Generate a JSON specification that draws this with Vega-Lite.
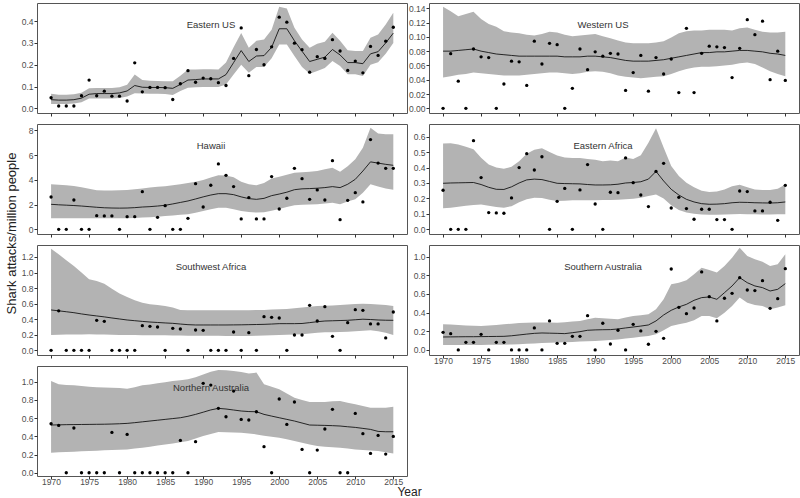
{
  "$schema": "https://vega.github.io/schema/vega-lite/v6.json",
  "background": "white",
  "padding": {"left": 4, "top": 2, "right": 0, "bottom": 0},
  "config": {
    "view": {"stroke": "#555", "strokeWidth": 1},
    "axis": {"grid": false, "domain": false, "tickColor": "#333", "tickSize": 3, "labelColor": "#4d4d4d", "labelFontSize": 8.5, "labelFont": "Liberation Sans", "titleFont": "Liberation Sans", "titleFontWeight": "normal", "titleColor": "#222", "labelPadding": 1, "labelOverlap": false, "labelFlush": false, "labelBound": false},
    "title": {"font": "Liberation Sans", "fontSize": 9.5, "fontWeight": "normal", "color": "#333"}
  },
  "datasets": {
    "eus": [
      {"year":1970,"obs":0.049,"fit":0.040,"lo":0.020,"hi":0.067},
      {"year":1971,"obs":0.011,"fit":0.038,"lo":0.020,"hi":0.063},
      {"year":1972,"obs":0.011,"fit":0.038,"lo":0.020,"hi":0.063},
      {"year":1973,"obs":0.011,"fit":0.040,"lo":0.022,"hi":0.065},
      {"year":1974,"obs":0.058,"fit":0.047,"lo":0.028,"hi":0.072},
      {"year":1975,"obs":0.130,"fit":0.065,"lo":0.045,"hi":0.092},
      {"year":1976,"obs":0.058,"fit":0.068,"lo":0.046,"hi":0.093},
      {"year":1977,"obs":0.079,"fit":0.068,"lo":0.046,"hi":0.093},
      {"year":1978,"obs":0.056,"fit":0.068,"lo":0.046,"hi":0.094},
      {"year":1979,"obs":0.056,"fit":0.071,"lo":0.048,"hi":0.097},
      {"year":1980,"obs":0.034,"fit":0.080,"lo":0.055,"hi":0.108},
      {"year":1981,"obs":0.209,"fit":0.105,"lo":0.070,"hi":0.155},
      {"year":1982,"obs":0.076,"fit":0.097,"lo":0.068,"hi":0.130},
      {"year":1983,"obs":0.096,"fit":0.096,"lo":0.067,"hi":0.127},
      {"year":1984,"obs":0.096,"fit":0.096,"lo":0.067,"hi":0.126},
      {"year":1985,"obs":0.095,"fit":0.095,"lo":0.066,"hi":0.125},
      {"year":1986,"obs":0.041,"fit":0.092,"lo":0.062,"hi":0.124},
      {"year":1987,"obs":0.113,"fit":0.110,"lo":0.080,"hi":0.150},
      {"year":1988,"obs":0.173,"fit":0.130,"lo":0.095,"hi":0.178},
      {"year":1989,"obs":0.120,"fit":0.132,"lo":0.097,"hi":0.178},
      {"year":1990,"obs":0.139,"fit":0.135,"lo":0.098,"hi":0.180},
      {"year":1991,"obs":0.136,"fit":0.135,"lo":0.098,"hi":0.180},
      {"year":1992,"obs":0.118,"fit":0.135,"lo":0.098,"hi":0.178},
      {"year":1993,"obs":0.105,"fit":0.155,"lo":0.110,"hi":0.210},
      {"year":1994,"obs":0.229,"fit":0.210,"lo":0.155,"hi":0.280},
      {"year":1995,"obs":0.369,"fit":0.265,"lo":0.200,"hi":0.345},
      {"year":1996,"obs":0.150,"fit":0.215,"lo":0.163,"hi":0.278},
      {"year":1997,"obs":0.270,"fit":0.240,"lo":0.190,"hi":0.310},
      {"year":1998,"obs":0.200,"fit":0.242,"lo":0.190,"hi":0.316},
      {"year":1999,"obs":0.282,"fit":0.280,"lo":0.230,"hi":0.360},
      {"year":2000,"obs":0.418,"fit":0.365,"lo":0.293,"hi":0.466},
      {"year":2001,"obs":0.395,"fit":0.365,"lo":0.293,"hi":0.458},
      {"year":2002,"obs":0.299,"fit":0.310,"lo":0.240,"hi":0.370},
      {"year":2003,"obs":0.269,"fit":0.262,"lo":0.190,"hi":0.316},
      {"year":2004,"obs":0.166,"fit":0.215,"lo":0.159,"hi":0.278},
      {"year":2005,"obs":0.237,"fit":0.225,"lo":0.172,"hi":0.296},
      {"year":2006,"obs":0.229,"fit":0.235,"lo":0.185,"hi":0.305},
      {"year":2007,"obs":0.315,"fit":0.270,"lo":0.217,"hi":0.347},
      {"year":2008,"obs":0.263,"fit":0.245,"lo":0.194,"hi":0.310},
      {"year":2009,"obs":0.174,"fit":0.210,"lo":0.156,"hi":0.266},
      {"year":2010,"obs":0.217,"fit":0.210,"lo":0.156,"hi":0.263},
      {"year":2011,"obs":0.163,"fit":0.205,"lo":0.148,"hi":0.263},
      {"year":2012,"obs":0.284,"fit":0.250,"lo":0.200,"hi":0.324},
      {"year":2013,"obs":0.243,"fit":0.260,"lo":0.212,"hi":0.339},
      {"year":2014,"obs":0.308,"fit":0.300,"lo":0.250,"hi":0.385},
      {"year":2015,"obs":0.372,"fit":0.345,"lo":0.300,"hi":0.438}
    ],
    "wus": [
      {"year":1970,"obs":0.000,"fit":0.080,"lo":0.043,"hi":0.142},
      {"year":1971,"obs":0.0765,"fit":0.080,"lo":0.045,"hi":0.136},
      {"year":1972,"obs":0.038,"fit":0.081,"lo":0.047,"hi":0.129},
      {"year":1973,"obs":0.000,"fit":0.082,"lo":0.048,"hi":0.132},
      {"year":1974,"obs":0.083,"fit":0.083,"lo":0.050,"hi":0.135},
      {"year":1975,"obs":0.072,"fit":0.080,"lo":0.049,"hi":0.125},
      {"year":1976,"obs":0.071,"fit":0.078,"lo":0.048,"hi":0.118},
      {"year":1977,"obs":0.000,"fit":0.076,"lo":0.047,"hi":0.114},
      {"year":1978,"obs":0.034,"fit":0.075,"lo":0.046,"hi":0.108},
      {"year":1979,"obs":0.066,"fit":0.074,"lo":0.046,"hi":0.106},
      {"year":1980,"obs":0.065,"fit":0.073,"lo":0.046,"hi":0.105},
      {"year":1981,"obs":0.032,"fit":0.073,"lo":0.047,"hi":0.103},
      {"year":1982,"obs":0.094,"fit":0.073,"lo":0.048,"hi":0.102},
      {"year":1983,"obs":0.062,"fit":0.073,"lo":0.049,"hi":0.104},
      {"year":1984,"obs":0.091,"fit":0.073,"lo":0.050,"hi":0.107},
      {"year":1985,"obs":0.089,"fit":0.073,"lo":0.050,"hi":0.106},
      {"year":1986,"obs":0.000,"fit":0.072,"lo":0.049,"hi":0.103},
      {"year":1987,"obs":0.028,"fit":0.072,"lo":0.048,"hi":0.101},
      {"year":1988,"obs":0.083,"fit":0.072,"lo":0.049,"hi":0.102},
      {"year":1989,"obs":0.054,"fit":0.073,"lo":0.051,"hi":0.103},
      {"year":1990,"obs":0.079,"fit":0.073,"lo":0.052,"hi":0.104},
      {"year":1991,"obs":0.073,"fit":0.072,"lo":0.051,"hi":0.101},
      {"year":1992,"obs":0.077,"fit":0.071,"lo":0.049,"hi":0.098},
      {"year":1993,"obs":0.076,"fit":0.069,"lo":0.046,"hi":0.095},
      {"year":1994,"obs":0.025,"fit":0.067,"lo":0.044,"hi":0.092},
      {"year":1995,"obs":0.050,"fit":0.066,"lo":0.043,"hi":0.091},
      {"year":1996,"obs":0.074,"fit":0.066,"lo":0.042,"hi":0.091},
      {"year":1997,"obs":0.024,"fit":0.066,"lo":0.043,"hi":0.091},
      {"year":1998,"obs":0.071,"fit":0.067,"lo":0.044,"hi":0.092},
      {"year":1999,"obs":0.048,"fit":0.068,"lo":0.045,"hi":0.094},
      {"year":2000,"obs":0.069,"fit":0.070,"lo":0.048,"hi":0.099},
      {"year":2001,"obs":0.022,"fit":0.072,"lo":0.052,"hi":0.105},
      {"year":2002,"obs":0.112,"fit":0.074,"lo":0.055,"hi":0.108},
      {"year":2003,"obs":0.022,"fit":0.076,"lo":0.057,"hi":0.109},
      {"year":2004,"obs":0.077,"fit":0.078,"lo":0.058,"hi":0.109},
      {"year":2005,"obs":0.087,"fit":0.078,"lo":0.058,"hi":0.110},
      {"year":2006,"obs":0.086,"fit":0.079,"lo":0.059,"hi":0.110},
      {"year":2007,"obs":0.085,"fit":0.079,"lo":0.060,"hi":0.110},
      {"year":2008,"obs":0.043,"fit":0.080,"lo":0.061,"hi":0.109},
      {"year":2009,"obs":0.084,"fit":0.081,"lo":0.063,"hi":0.112},
      {"year":2010,"obs":0.124,"fit":0.081,"lo":0.064,"hi":0.113},
      {"year":2011,"obs":0.103,"fit":0.080,"lo":0.062,"hi":0.110},
      {"year":2012,"obs":0.122,"fit":0.079,"lo":0.057,"hi":0.107},
      {"year":2013,"obs":0.040,"fit":0.077,"lo":0.052,"hi":0.106},
      {"year":2014,"obs":0.080,"fit":0.076,"lo":0.048,"hi":0.106},
      {"year":2015,"obs":0.039,"fit":0.074,"lo":0.045,"hi":0.107}
    ],
    "hi": [
      {"year":1970,"obs":2.61,"fit":2.02,"lo":0.89,"hi":3.64},
      {"year":1971,"obs":0,"fit":1.98,"lo":0.89,"hi":3.60},
      {"year":1972,"obs":0,"fit":1.95,"lo":0.89,"hi":3.55},
      {"year":1973,"obs":2.37,"fit":1.92,"lo":0.89,"hi":3.50},
      {"year":1974,"obs":0,"fit":1.88,"lo":0.89,"hi":3.40},
      {"year":1975,"obs":0,"fit":1.83,"lo":0.89,"hi":3.28},
      {"year":1976,"obs":1.10,"fit":1.78,"lo":0.89,"hi":3.15},
      {"year":1977,"obs":1.08,"fit":1.74,"lo":0.89,"hi":3.13},
      {"year":1978,"obs":1.08,"fit":1.72,"lo":0.89,"hi":3.13},
      {"year":1979,"obs":0,"fit":1.71,"lo":0.89,"hi":3.15},
      {"year":1980,"obs":1.02,"fit":1.72,"lo":0.89,"hi":3.18},
      {"year":1981,"obs":1.02,"fit":1.75,"lo":0.92,"hi":3.23},
      {"year":1982,"obs":3.04,"fit":1.80,"lo":0.96,"hi":3.30},
      {"year":1983,"obs":0,"fit":1.83,"lo":0.98,"hi":3.38},
      {"year":1984,"obs":0.97,"fit":1.88,"lo":1.02,"hi":3.43},
      {"year":1985,"obs":1.91,"fit":1.94,"lo":1.08,"hi":3.47},
      {"year":1986,"obs":0,"fit":2.05,"lo":1.12,"hi":3.55},
      {"year":1987,"obs":0,"fit":2.17,"lo":1.17,"hi":3.65},
      {"year":1988,"obs":0.89,"fit":2.29,"lo":1.22,"hi":3.75},
      {"year":1989,"obs":3.69,"fit":2.45,"lo":1.33,"hi":3.85},
      {"year":1990,"obs":1.80,"fit":2.62,"lo":1.48,"hi":3.98},
      {"year":1991,"obs":3.56,"fit":2.77,"lo":1.62,"hi":4.18},
      {"year":1992,"obs":5.28,"fit":2.88,"lo":1.75,"hi":4.36},
      {"year":1993,"obs":4.36,"fit":2.88,"lo":1.75,"hi":4.35},
      {"year":1994,"obs":3.45,"fit":2.80,"lo":1.62,"hi":4.20},
      {"year":1995,"obs":0.84,"fit":2.62,"lo":1.48,"hi":3.85},
      {"year":1996,"obs":2.56,"fit":2.48,"lo":1.40,"hi":3.65},
      {"year":1997,"obs":0.84,"fit":2.42,"lo":1.35,"hi":3.56},
      {"year":1998,"obs":0.84,"fit":2.50,"lo":1.38,"hi":3.75},
      {"year":1999,"obs":4.26,"fit":2.72,"lo":1.50,"hi":4.10},
      {"year":2000,"obs":1.64,"fit":2.85,"lo":1.65,"hi":4.25},
      {"year":2001,"obs":2.51,"fit":3.00,"lo":1.80,"hi":4.40},
      {"year":2002,"obs":4.93,"fit":3.20,"lo":1.94,"hi":4.58},
      {"year":2003,"obs":4.09,"fit":3.27,"lo":1.98,"hi":4.62},
      {"year":2004,"obs":2.42,"fit":3.29,"lo":2.00,"hi":4.65},
      {"year":2005,"obs":3.18,"fit":3.32,"lo":2.02,"hi":4.71},
      {"year":2006,"obs":2.37,"fit":3.37,"lo":2.08,"hi":4.85},
      {"year":2007,"obs":5.55,"fit":3.45,"lo":2.15,"hi":4.98},
      {"year":2008,"obs":0.78,"fit":3.37,"lo":2.02,"hi":4.66},
      {"year":2009,"obs":2.34,"fit":3.64,"lo":2.25,"hi":5.10},
      {"year":2010,"obs":2.96,"fit":4.04,"lo":2.42,"hi":5.66},
      {"year":2011,"obs":2.21,"fit":4.71,"lo":2.96,"hi":6.60},
      {"year":2012,"obs":7.25,"fit":5.45,"lo":3.64,"hi":8.20},
      {"year":2013,"obs":5.35,"fit":5.35,"lo":3.45,"hi":7.75},
      {"year":2014,"obs":4.93,"fit":5.25,"lo":3.30,"hi":7.68},
      {"year":2015,"obs":4.93,"fit":5.17,"lo":3.20,"hi":7.68}
    ],
    "eaf": [
      {"year":1970,"obs":0.253,"fit":0.298,"lo":0.136,"hi":0.555},
      {"year":1971,"obs":0,"fit":0.300,"lo":0.140,"hi":0.557},
      {"year":1972,"obs":0,"fit":0.301,"lo":0.146,"hi":0.550},
      {"year":1973,"obs":0,"fit":0.302,"lo":0.152,"hi":0.535},
      {"year":1974,"obs":0.574,"fit":0.303,"lo":0.158,"hi":0.518},
      {"year":1975,"obs":0.335,"fit":0.290,"lo":0.160,"hi":0.464},
      {"year":1976,"obs":0.108,"fit":0.272,"lo":0.152,"hi":0.420},
      {"year":1977,"obs":0.106,"fit":0.259,"lo":0.145,"hi":0.400},
      {"year":1978,"obs":0.104,"fit":0.258,"lo":0.140,"hi":0.392},
      {"year":1979,"obs":0.203,"fit":0.275,"lo":0.150,"hi":0.405},
      {"year":1980,"obs":0.400,"fit":0.300,"lo":0.175,"hi":0.440},
      {"year":1981,"obs":0.490,"fit":0.320,"lo":0.195,"hi":0.490},
      {"year":1982,"obs":0.384,"fit":0.325,"lo":0.205,"hi":0.515},
      {"year":1983,"obs":0.470,"fit":0.322,"lo":0.202,"hi":0.525},
      {"year":1984,"obs":0,"fit":0.310,"lo":0.192,"hi":0.500},
      {"year":1985,"obs":0.181,"fit":0.298,"lo":0.183,"hi":0.478},
      {"year":1986,"obs":0.265,"fit":0.296,"lo":0.185,"hi":0.465},
      {"year":1987,"obs":0,"fit":0.295,"lo":0.188,"hi":0.462},
      {"year":1988,"obs":0.255,"fit":0.294,"lo":0.188,"hi":0.462},
      {"year":1989,"obs":0.419,"fit":0.290,"lo":0.188,"hi":0.455},
      {"year":1990,"obs":0.164,"fit":0.287,"lo":0.188,"hi":0.450},
      {"year":1991,"obs":0,"fit":0.287,"lo":0.190,"hi":0.440},
      {"year":1992,"obs":0.240,"fit":0.288,"lo":0.190,"hi":0.445},
      {"year":1993,"obs":0.237,"fit":0.292,"lo":0.192,"hi":0.440},
      {"year":1994,"obs":0.462,"fit":0.300,"lo":0.195,"hi":0.465},
      {"year":1995,"obs":0.302,"fit":0.303,"lo":0.198,"hi":0.455},
      {"year":1996,"obs":0.222,"fit":0.308,"lo":0.205,"hi":0.480},
      {"year":1997,"obs":0.147,"fit":0.325,"lo":0.215,"hi":0.560},
      {"year":1998,"obs":0.375,"fit":0.375,"lo":0.225,"hi":0.655},
      {"year":1999,"obs":0.427,"fit":0.313,"lo":0.200,"hi":0.530},
      {"year":2000,"obs":0.138,"fit":0.259,"lo":0.155,"hi":0.410},
      {"year":2001,"obs":0.207,"fit":0.222,"lo":0.125,"hi":0.345},
      {"year":2002,"obs":0.134,"fit":0.194,"lo":0.108,"hi":0.302},
      {"year":2003,"obs":0.065,"fit":0.177,"lo":0.100,"hi":0.272},
      {"year":2004,"obs":0.130,"fit":0.166,"lo":0.096,"hi":0.250},
      {"year":2005,"obs":0.130,"fit":0.162,"lo":0.095,"hi":0.242},
      {"year":2006,"obs":0.063,"fit":0.163,"lo":0.095,"hi":0.245},
      {"year":2007,"obs":0.063,"fit":0.166,"lo":0.096,"hi":0.258},
      {"year":2008,"obs":0,"fit":0.172,"lo":0.098,"hi":0.278},
      {"year":2009,"obs":0.248,"fit":0.175,"lo":0.099,"hi":0.288},
      {"year":2010,"obs":0.244,"fit":0.174,"lo":0.098,"hi":0.272},
      {"year":2011,"obs":0.119,"fit":0.172,"lo":0.097,"hi":0.258},
      {"year":2012,"obs":0.119,"fit":0.171,"lo":0.096,"hi":0.255},
      {"year":2013,"obs":0.175,"fit":0.170,"lo":0.096,"hi":0.255},
      {"year":2014,"obs":0.058,"fit":0.172,"lo":0.097,"hi":0.262},
      {"year":2015,"obs":0.285,"fit":0.177,"lo":0.098,"hi":0.290}
    ],
    "swa": [
      {"year":1970,"obs":0,"fit":0.519,"lo":0.197,"hi":1.307},
      {"year":1971,"obs":0.508,"fit":0.508,"lo":0.200,"hi":1.234},
      {"year":1972,"obs":0,"fit":0.496,"lo":0.202,"hi":1.157},
      {"year":1973,"obs":0,"fit":0.484,"lo":0.204,"hi":1.084},
      {"year":1974,"obs":0,"fit":0.468,"lo":0.205,"hi":1.000},
      {"year":1975,"obs":0,"fit":0.454,"lo":0.206,"hi":0.913},
      {"year":1976,"obs":0.386,"fit":0.442,"lo":0.205,"hi":0.890},
      {"year":1977,"obs":0.373,"fit":0.430,"lo":0.203,"hi":0.857},
      {"year":1978,"obs":0,"fit":0.416,"lo":0.200,"hi":0.793},
      {"year":1979,"obs":0,"fit":0.403,"lo":0.198,"hi":0.729},
      {"year":1980,"obs":0,"fit":0.390,"lo":0.197,"hi":0.686},
      {"year":1981,"obs":0,"fit":0.381,"lo":0.196,"hi":0.643},
      {"year":1982,"obs":0.317,"fit":0.372,"lo":0.195,"hi":0.613},
      {"year":1983,"obs":0.309,"fit":0.364,"lo":0.194,"hi":0.591},
      {"year":1984,"obs":0.300,"fit":0.358,"lo":0.193,"hi":0.583},
      {"year":1985,"obs":0,"fit":0.352,"lo":0.193,"hi":0.570},
      {"year":1986,"obs":0.283,"fit":0.347,"lo":0.192,"hi":0.549},
      {"year":1987,"obs":0.274,"fit":0.338,"lo":0.190,"hi":0.519},
      {"year":1988,"obs":0,"fit":0.330,"lo":0.189,"hi":0.514},
      {"year":1989,"obs":0.261,"fit":0.326,"lo":0.188,"hi":0.514},
      {"year":1990,"obs":0.257,"fit":0.326,"lo":0.187,"hi":0.514},
      {"year":1991,"obs":0,"fit":0.326,"lo":0.186,"hi":0.514},
      {"year":1992,"obs":0,"fit":0.326,"lo":0.186,"hi":0.514},
      {"year":1993,"obs":0,"fit":0.326,"lo":0.185,"hi":0.514},
      {"year":1994,"obs":0.236,"fit":0.327,"lo":0.185,"hi":0.514},
      {"year":1995,"obs":0,"fit":0.328,"lo":0.184,"hi":0.514},
      {"year":1996,"obs":0.227,"fit":0.330,"lo":0.185,"hi":0.516},
      {"year":1997,"obs":0,"fit":0.332,"lo":0.187,"hi":0.518},
      {"year":1998,"obs":0.433,"fit":0.334,"lo":0.190,"hi":0.520},
      {"year":1999,"obs":0.424,"fit":0.338,"lo":0.193,"hi":0.524},
      {"year":2000,"obs":0.416,"fit":0.343,"lo":0.197,"hi":0.527},
      {"year":2001,"obs":0,"fit":0.343,"lo":0.200,"hi":0.532},
      {"year":2002,"obs":0.197,"fit":0.343,"lo":0.203,"hi":0.540},
      {"year":2003,"obs":0.197,"fit":0.345,"lo":0.207,"hi":0.549},
      {"year":2004,"obs":0.579,"fit":0.356,"lo":0.215,"hi":0.560},
      {"year":2005,"obs":0.377,"fit":0.368,"lo":0.227,"hi":0.570},
      {"year":2006,"obs":0.561,"fit":0.377,"lo":0.232,"hi":0.572},
      {"year":2007,"obs":0.180,"fit":0.380,"lo":0.234,"hi":0.575},
      {"year":2008,"obs":0,"fit":0.383,"lo":0.237,"hi":0.582},
      {"year":2009,"obs":0.356,"fit":0.386,"lo":0.240,"hi":0.590},
      {"year":2010,"obs":0.523,"fit":0.393,"lo":0.245,"hi":0.596},
      {"year":2011,"obs":0.514,"fit":0.400,"lo":0.252,"hi":0.600},
      {"year":2012,"obs":0.339,"fit":0.396,"lo":0.257,"hi":0.596},
      {"year":2013,"obs":0.339,"fit":0.390,"lo":0.245,"hi":0.590},
      {"year":2014,"obs":0.159,"fit":0.387,"lo":0.225,"hi":0.582},
      {"year":2015,"obs":0.493,"fit":0.386,"lo":0.197,"hi":0.570}
    ],
    "sau": [
      {"year":1970,"obs":0.189,"fit":0.139,"lo":0.054,"hi":0.275},
      {"year":1971,"obs":0.175,"fit":0.140,"lo":0.054,"hi":0.272},
      {"year":1972,"obs":0,"fit":0.141,"lo":0.054,"hi":0.268},
      {"year":1973,"obs":0.082,"fit":0.142,"lo":0.054,"hi":0.263},
      {"year":1974,"obs":0.082,"fit":0.142,"lo":0.054,"hi":0.259},
      {"year":1975,"obs":0.168,"fit":0.143,"lo":0.054,"hi":0.257},
      {"year":1976,"obs":0,"fit":0.144,"lo":0.055,"hi":0.262},
      {"year":1977,"obs":0.082,"fit":0.145,"lo":0.056,"hi":0.268},
      {"year":1978,"obs":0.082,"fit":0.146,"lo":0.057,"hi":0.275},
      {"year":1979,"obs":0,"fit":0.152,"lo":0.059,"hi":0.282},
      {"year":1980,"obs":0,"fit":0.161,"lo":0.061,"hi":0.289},
      {"year":1981,"obs":0,"fit":0.170,"lo":0.066,"hi":0.292},
      {"year":1982,"obs":0.236,"fit":0.178,"lo":0.070,"hi":0.294},
      {"year":1983,"obs":0,"fit":0.182,"lo":0.074,"hi":0.294},
      {"year":1984,"obs":0.311,"fit":0.180,"lo":0.077,"hi":0.294},
      {"year":1985,"obs":0.071,"fit":0.178,"lo":0.079,"hi":0.293},
      {"year":1986,"obs":0.071,"fit":0.175,"lo":0.082,"hi":0.298},
      {"year":1987,"obs":0.146,"fit":0.185,"lo":0.086,"hi":0.305},
      {"year":1988,"obs":0.146,"fit":0.196,"lo":0.090,"hi":0.311},
      {"year":1989,"obs":0.368,"fit":0.211,"lo":0.093,"hi":0.330},
      {"year":1990,"obs":0,"fit":0.215,"lo":0.096,"hi":0.346},
      {"year":1991,"obs":0.286,"fit":0.217,"lo":0.101,"hi":0.340},
      {"year":1992,"obs":0.064,"fit":0.218,"lo":0.106,"hi":0.334},
      {"year":1993,"obs":0.211,"fit":0.225,"lo":0.112,"hi":0.329},
      {"year":1994,"obs":0,"fit":0.236,"lo":0.122,"hi":0.348},
      {"year":1995,"obs":0.275,"fit":0.246,"lo":0.132,"hi":0.364},
      {"year":1996,"obs":0.204,"fit":0.256,"lo":0.141,"hi":0.373},
      {"year":1997,"obs":0.061,"fit":0.268,"lo":0.150,"hi":0.382},
      {"year":1998,"obs":0.200,"fit":0.311,"lo":0.168,"hi":0.436},
      {"year":1999,"obs":0.125,"fit":0.375,"lo":0.211,"hi":0.543},
      {"year":2000,"obs":0.868,"fit":0.425,"lo":0.257,"hi":0.704},
      {"year":2001,"obs":0.457,"fit":0.461,"lo":0.275,"hi":0.721},
      {"year":2002,"obs":0.389,"fit":0.489,"lo":0.293,"hi":0.746},
      {"year":2003,"obs":0.450,"fit":0.532,"lo":0.318,"hi":0.811},
      {"year":2004,"obs":0.836,"fit":0.561,"lo":0.364,"hi":0.882},
      {"year":2005,"obs":0.571,"fit":0.568,"lo":0.364,"hi":0.857},
      {"year":2006,"obs":0.311,"fit":0.543,"lo":0.339,"hi":0.829},
      {"year":2007,"obs":0.554,"fit":0.614,"lo":0.400,"hi":0.900},
      {"year":2008,"obs":0.607,"fit":0.686,"lo":0.471,"hi":0.989},
      {"year":2009,"obs":0.775,"fit":0.775,"lo":0.561,"hi":1.096},
      {"year":2010,"obs":0.643,"fit":0.721,"lo":0.507,"hi":1.007},
      {"year":2011,"obs":0.636,"fit":0.686,"lo":0.482,"hi":0.971},
      {"year":2012,"obs":0.743,"fit":0.668,"lo":0.471,"hi":0.946},
      {"year":2013,"obs":0.446,"fit":0.632,"lo":0.436,"hi":0.900},
      {"year":2014,"obs":0.550,"fit":0.650,"lo":0.454,"hi":0.918},
      {"year":2015,"obs":0.871,"fit":0.711,"lo":0.480,"hi":1.025}
    ],
    "nau": [
      {"year":1970,"obs":0.538,"fit":0.524,"lo":0.220,"hi":1.007},
      {"year":1971,"obs":0.520,"fit":0.526,"lo":0.224,"hi":0.971},
      {"year":1972,"obs":0,"fit":0.528,"lo":0.228,"hi":0.965},
      {"year":1973,"obs":0.491,"fit":0.529,"lo":0.231,"hi":0.960},
      {"year":1974,"obs":0,"fit":0.530,"lo":0.235,"hi":0.952},
      {"year":1975,"obs":0,"fit":0.531,"lo":0.238,"hi":0.945},
      {"year":1976,"obs":0,"fit":0.532,"lo":0.242,"hi":0.940},
      {"year":1977,"obs":0,"fit":0.533,"lo":0.246,"hi":0.937},
      {"year":1978,"obs":0.443,"fit":0.535,"lo":0.249,"hi":0.934},
      {"year":1979,"obs":0,"fit":0.538,"lo":0.252,"hi":0.930},
      {"year":1980,"obs":0.421,"fit":0.542,"lo":0.256,"hi":0.923},
      {"year":1981,"obs":0,"fit":0.550,"lo":0.265,"hi":0.940},
      {"year":1982,"obs":0,"fit":0.559,"lo":0.275,"hi":0.960},
      {"year":1983,"obs":0,"fit":0.568,"lo":0.285,"hi":0.970},
      {"year":1984,"obs":0,"fit":0.577,"lo":0.298,"hi":0.982},
      {"year":1985,"obs":0,"fit":0.586,"lo":0.311,"hi":0.995},
      {"year":1986,"obs":0,"fit":0.595,"lo":0.322,"hi":1.007},
      {"year":1987,"obs":0.355,"fit":0.604,"lo":0.334,"hi":1.015},
      {"year":1988,"obs":0,"fit":0.620,"lo":0.348,"hi":1.026},
      {"year":1989,"obs":0.341,"fit":0.641,"lo":0.375,"hi":1.050},
      {"year":1990,"obs":0.982,"fit":0.665,"lo":0.403,"hi":1.080},
      {"year":1991,"obs":0.963,"fit":0.690,"lo":0.425,"hi":1.110},
      {"year":1992,"obs":0.707,"fit":0.707,"lo":0.447,"hi":1.128},
      {"year":1993,"obs":0.615,"fit":0.700,"lo":0.445,"hi":1.125},
      {"year":1994,"obs":0.897,"fit":0.689,"lo":0.442,"hi":1.117},
      {"year":1995,"obs":0.586,"fit":0.678,"lo":0.440,"hi":1.106},
      {"year":1996,"obs":0.579,"fit":0.672,"lo":0.432,"hi":1.090},
      {"year":1997,"obs":0.670,"fit":0.670,"lo":0.421,"hi":1.100},
      {"year":1998,"obs":0.286,"fit":0.641,"lo":0.405,"hi":0.971},
      {"year":1999,"obs":0,"fit":0.622,"lo":0.395,"hi":0.945},
      {"year":2000,"obs":0.810,"fit":0.604,"lo":0.385,"hi":0.916},
      {"year":2001,"obs":0.531,"fit":0.586,"lo":0.367,"hi":0.870},
      {"year":2002,"obs":0.777,"fit":0.568,"lo":0.348,"hi":0.824},
      {"year":2003,"obs":0.256,"fit":0.546,"lo":0.330,"hi":0.800},
      {"year":2004,"obs":0,"fit":0.524,"lo":0.311,"hi":0.777},
      {"year":2005,"obs":0.249,"fit":0.522,"lo":0.293,"hi":0.777},
      {"year":2006,"obs":0.480,"fit":0.520,"lo":0.284,"hi":0.777},
      {"year":2007,"obs":0.696,"fit":0.517,"lo":0.280,"hi":0.785},
      {"year":2008,"obs":0,"fit":0.513,"lo":0.275,"hi":0.788},
      {"year":2009,"obs":0,"fit":0.505,"lo":0.266,"hi":0.770},
      {"year":2010,"obs":0.652,"fit":0.498,"lo":0.256,"hi":0.751},
      {"year":2011,"obs":0.429,"fit":0.487,"lo":0.250,"hi":0.732},
      {"year":2012,"obs":0.212,"fit":0.476,"lo":0.245,"hi":0.714},
      {"year":2013,"obs":0.410,"fit":0.454,"lo":0.238,"hi":0.714},
      {"year":2014,"obs":0.205,"fit":0.450,"lo":0.225,"hi":0.714},
      {"year":2015,"obs":0.399,"fit":0.450,"lo":0.212,"hi":0.725}
    ]
  },
  "bounds": "flush",
  "columns": 2,
  "spacing": {"row": 11, "column": 22},
  "concat": [
    {
      "width": 370, "height": 110,
      "data": {"name": "eus"},
      "title": {"text": "Eastern US", "offset": -31, "baseline": "middle", "frame": "group", "dx": -11},
      "encoding": {"x": {"field": "year", "type": "quantitative", "title": null, "scale": {"domain": [1968.15, 2016.8], "nice": false, "zero": false}, "axis": {"values": [1970,1975,1980,1985,1990,1995,2000,2005,2010,2015], "tickCount": 20, "labels": false}}},
      "layer": [
        {"mark": {"type": "area", "color": "#b3b3b3", "opacity": 1}, "encoding": {"y": {"field": "lo", "type": "quantitative", "title": null, "scale": {"domain": [-0.021, 0.483], "nice": false, "zero": false}, "axis": {"values": [0,0.1,0.2,0.3,0.4], "tickCount": 20, "format": ".1f", "labelOverlap": false}}, "y2": {"field": "hi"}}},
        {"mark": {"type": "line", "color": "black", "strokeWidth": 0.8}, "encoding": {"y": {"field": "fit", "type": "quantitative", "title": null}}},
        {"mark": {"type": "point", "shape": "circle", "filled": true, "color": "black", "opacity": 1, "size": 11}, "encoding": {"y": {"field": "obs", "type": "quantitative", "title": null}}}
      ]
    },
    {
      "width": 370, "height": 110,
      "data": {"name": "wus"},
      "title": {"text": "Western US", "offset": -31, "baseline": "middle", "frame": "group", "dx": -11},
      "encoding": {"x": {"field": "year", "type": "quantitative", "title": null, "scale": {"domain": [1968.15, 2016.8], "nice": false, "zero": false}, "axis": {"values": [1970,1975,1980,1985,1990,1995,2000,2005,2010,2015], "tickCount": 20, "labels": false}}},
      "layer": [
        {"mark": {"type": "area", "color": "#b3b3b3", "opacity": 1}, "encoding": {"y": {"field": "lo", "type": "quantitative", "title": null, "scale": {"domain": [-0.0066, 0.1474], "nice": false, "zero": false}, "axis": {"values": [0,0.02,0.04,0.06,0.08,0.1,0.12,0.14], "tickCount": 20, "format": ".2f", "labelOverlap": false}}, "y2": {"field": "hi"}}},
        {"mark": {"type": "line", "color": "black", "strokeWidth": 0.8}, "encoding": {"y": {"field": "fit", "type": "quantitative", "title": null}}},
        {"mark": {"type": "point", "shape": "circle", "filled": true, "color": "black", "opacity": 1, "size": 11}, "encoding": {"y": {"field": "obs", "type": "quantitative", "title": null}}}
      ]
    },
    {
      "width": 370, "height": 110,
      "data": {"name": "hi"},
      "title": {"text": "Hawaii", "offset": -31, "baseline": "middle", "frame": "group", "dx": -11},
      "encoding": {"x": {"field": "year", "type": "quantitative", "title": null, "scale": {"domain": [1968.15, 2016.8], "nice": false, "zero": false}, "axis": {"values": [1970,1975,1980,1985,1990,1995,2000,2005,2010,2015], "tickCount": 20, "labels": false}}},
      "layer": [
        {"mark": {"type": "area", "color": "#b3b3b3", "opacity": 1}, "encoding": {"y": {"field": "lo", "type": "quantitative", "title": "Shark attacks/million people", "scale": {"domain": [-0.38, 8.51], "nice": false, "zero": false}, "axis": {"titleX": -26, "titleY": 109, "titleAngle": -90, "titleAlign": "center", "titleBaseline": "middle", "titleFontSize": 13, "values": [0,2,4,6,8], "tickCount": 20, "format": "d", "labelOverlap": false}}, "y2": {"field": "hi"}}},
        {"mark": {"type": "line", "color": "black", "strokeWidth": 0.8}, "encoding": {"y": {"field": "fit", "type": "quantitative", "title": "Shark attacks/million people"}}},
        {"mark": {"type": "point", "shape": "circle", "filled": true, "color": "black", "opacity": 1, "size": 11}, "encoding": {"y": {"field": "obs", "type": "quantitative", "title": "Shark attacks/million people"}}}
      ]
    },
    {
      "width": 370, "height": 110,
      "data": {"name": "eaf"},
      "title": {"text": "Eastern Africa", "offset": -31, "baseline": "middle", "frame": "group", "dx": -11},
      "encoding": {"x": {"field": "year", "type": "quantitative", "title": null, "scale": {"domain": [1968.15, 2016.8], "nice": false, "zero": false}, "axis": {"values": [1970,1975,1980,1985,1990,1995,2000,2005,2010,2015], "tickCount": 20, "labels": false}}},
      "layer": [
        {"mark": {"type": "area", "color": "#b3b3b3", "opacity": 1}, "encoding": {"y": {"field": "lo", "type": "quantitative", "title": null, "scale": {"domain": [-0.0305, 0.682], "nice": false, "zero": false}, "axis": {"values": [0,0.1,0.2,0.3,0.4,0.5,0.6], "tickCount": 20, "format": ".1f", "labelOverlap": false}}, "y2": {"field": "hi"}}},
        {"mark": {"type": "line", "color": "black", "strokeWidth": 0.8}, "encoding": {"y": {"field": "fit", "type": "quantitative", "title": null}}},
        {"mark": {"type": "point", "shape": "circle", "filled": true, "color": "black", "opacity": 1, "size": 11}, "encoding": {"y": {"field": "obs", "type": "quantitative", "title": null}}}
      ]
    },
    {
      "width": 370, "height": 110,
      "data": {"name": "swa"},
      "title": {"text": "Southwest Africa", "offset": -31, "baseline": "middle", "frame": "group", "dx": -11},
      "encoding": {"x": {"field": "year", "type": "quantitative", "title": null, "scale": {"domain": [1968.15, 2016.8], "nice": false, "zero": false}, "axis": {"values": [1970,1975,1980,1985,1990,1995,2000,2005,2010,2015], "tickCount": 20, "labels": false}}},
      "layer": [
        {"mark": {"type": "area", "color": "#b3b3b3", "opacity": 1}, "encoding": {"y": {"field": "lo", "type": "quantitative", "title": null, "scale": {"domain": [-0.06, 1.354], "nice": false, "zero": false}, "axis": {"values": [0,0.2,0.4,0.6,0.8,1.0,1.2], "tickCount": 20, "format": ".1f", "labelOverlap": false}}, "y2": {"field": "hi"}}},
        {"mark": {"type": "line", "color": "black", "strokeWidth": 0.8}, "encoding": {"y": {"field": "fit", "type": "quantitative", "title": null}}},
        {"mark": {"type": "point", "shape": "circle", "filled": true, "color": "black", "opacity": 1, "size": 11}, "encoding": {"y": {"field": "obs", "type": "quantitative", "title": null}}}
      ]
    },
    {
      "width": 370, "height": 110,
      "data": {"name": "sau"},
      "title": {"text": "Southern Australia", "offset": -31, "baseline": "middle", "frame": "group", "dx": -11},
      "encoding": {"x": {"field": "year", "type": "quantitative", "title": null, "scale": {"domain": [1968.15, 2016.8], "nice": false, "zero": false}, "axis": {"values": [1970,1975,1980,1985,1990,1995,2000,2005,2010,2015], "tickCount": 20, "format": "d", "labelPadding": -2, "labelOverlap": false}}},
      "layer": [
        {"mark": {"type": "area", "color": "#b3b3b3", "opacity": 1}, "encoding": {"y": {"field": "lo", "type": "quantitative", "title": null, "scale": {"domain": [-0.054, 1.125], "nice": false, "zero": false}, "axis": {"values": [0,0.2,0.4,0.6,0.8,1.0], "tickCount": 20, "format": ".1f", "labelOverlap": false}}, "y2": {"field": "hi"}}},
        {"mark": {"type": "line", "color": "black", "strokeWidth": 0.8}, "encoding": {"y": {"field": "fit", "type": "quantitative", "title": null}}},
        {"mark": {"type": "point", "shape": "circle", "filled": true, "color": "black", "opacity": 1, "size": 11}, "encoding": {"y": {"field": "obs", "type": "quantitative", "title": null}}}
      ]
    },
    {
      "width": 370, "height": 110,
      "data": {"name": "nau"},
      "title": {"text": "Northern Australia", "offset": -31, "baseline": "middle", "frame": "group", "dx": -11},
      "encoding": {"x": {"field": "year", "type": "quantitative", "title": "Year", "scale": {"domain": [1968.15, 2016.8], "nice": false, "zero": false}, "axis": {"titleX": 372, "titleY": 15, "titleAlign": "center", "titleBaseline": "middle", "titleFontSize": 12, "values": [1970,1975,1980,1985,1990,1995,2000,2005,2010,2015], "tickCount": 20, "format": "d", "labelPadding": -2, "labelOverlap": false}}},
      "layer": [
        {"mark": {"type": "area", "color": "#b3b3b3", "opacity": 1}, "encoding": {"y": {"field": "lo", "type": "quantitative", "title": null, "scale": {"domain": [-0.036, 1.1725], "nice": false, "zero": false}, "axis": {"values": [0,0.2,0.4,0.6,0.8,1.0], "tickCount": 20, "format": ".1f", "labelOverlap": false}}, "y2": {"field": "hi"}}},
        {"mark": {"type": "line", "color": "black", "strokeWidth": 0.8}, "encoding": {"y": {"field": "fit", "type": "quantitative", "title": null}}},
        {"mark": {"type": "point", "shape": "circle", "filled": true, "color": "black", "opacity": 1, "size": 11}, "encoding": {"y": {"field": "obs", "type": "quantitative", "title": null}}}
      ]
    }
  ]
}
